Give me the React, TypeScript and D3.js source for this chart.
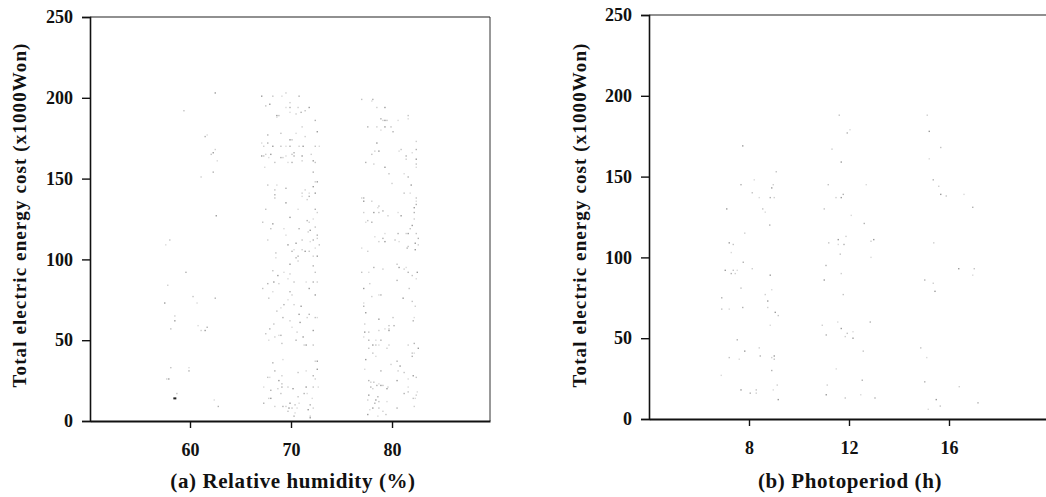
import React, { useEffect, useRef } from "react";
import * as d3 from "d3";

// tick values
const costTicks = [0, 50, 100, 150, 200, 250];
const humidityTicks = [60, 70, 80];
const photoTicks = [8, 12, 16];

// (a) relative humidity (%) vs total electric energy cost (x1000 Won)
const humidity60: [number, number][] = [
  [62.5, 203], [59.4, 192], [61.7, 177], [61.5, 176], [62.5, 168], [62.3, 166], [62.1, 165],
  [62.7, 161], [62.3, 154], [61.1, 151], [62.6, 127], [58.0, 112], [57.6, 109], [59.6, 92],
  [57.8, 84], [57.5, 73], [60.3, 77], [60.7, 73], [62.5, 76], [58.5, 65], [58.5, 62],
  [58.1, 57], [60.8, 59], [61.7, 58], [61.1, 56], [61.5, 56], [58.1, 33], [59.9, 33],
  [59.9, 31], [57.7, 26], [57.9, 26], [58.7, 17], [62.4, 13], [62.8, 9],
];
const humidityDark: [number, number][] = [[58.5, 14]];

const humidity70: [number, number][] = [
  [69.5, 203], [67.1, 201], [68.2, 201], [69.1, 201], [70.8, 201], [69.9, 197], [67.9, 196],
  [67.5, 195], [69.5, 194], [69.9, 194], [70.7, 194], [71.8, 194], [71.4, 192], [69.9, 191],
  [71.0, 191], [70.5, 190], [68.6, 189], [68.8, 189], [68.6, 188], [72.4, 186], [71.1, 182],
  [72.6, 179], [69.0, 178], [70.5, 178], [67.7, 177], [71.4, 176], [69.9, 174], [70.1, 174],
  [67.1, 172], [67.7, 172], [67.3, 170], [68.2, 170], [69.0, 170], [69.5, 170], [69.9, 170],
  [70.8, 170], [71.2, 170], [72.4, 170], [72.8, 170], [70.3, 166], [67.5, 165], [68.0, 165],
  [70.1, 165], [69.5, 164], [70.3, 164], [72.0, 165], [67.1, 164], [67.3, 164], [67.8, 163],
  [69.0, 163], [69.2, 163], [71.1, 164], [68.4, 160], [69.7, 160], [70.1, 160], [71.1, 161],
  [72.2, 161], [72.4, 160], [67.4, 157], [72.2, 154], [72.4, 148], [72.6, 148], [67.7, 146],
  [68.6, 146], [69.5, 144], [71.4, 143], [72.2, 145], [68.4, 143], [71.8, 141], [68.4, 140],
  [71.1, 141], [72.4, 141], [68.4, 138], [71.1, 139], [71.8, 139], [71.6, 137], [69.5, 135],
  [67.5, 131], [70.7, 131], [72.4, 131], [72.6, 129], [69.9, 126], [67.2, 123], [72.2, 125],
  [71.6, 124], [71.8, 123], [68.2, 122], [68.0, 119], [69.3, 119], [70.8, 119], [71.7, 117],
  [71.9, 118], [72.4, 120], [69.5, 115], [72.6, 115], [67.7, 112], [70.5, 110], [71.1, 112],
  [71.9, 111], [72.2, 112], [72.6, 113], [69.7, 109], [72.8, 109], [72.4, 107], [70.1, 105],
  [71.1, 106], [71.4, 105], [71.8, 105], [70.3, 106], [70.7, 102], [72.2, 102], [72.6, 102],
  [68.5, 104], [68.5, 101], [70.5, 101], [70.7, 99], [69.9, 97], [68.2, 93], [69.3, 92],
  [72.2, 96], [69.9, 91], [68.7, 90], [72.4, 92], [69.7, 88], [72.2, 86], [72.6, 86],
  [68.3, 86], [70.3, 86], [71.5, 86], [67.7, 85], [68.8, 85], [71.8, 82], [67.2, 82],
  [68.2, 80], [69.9, 80], [70.1, 78], [72.4, 78], [67.8, 76], [69.7, 75], [69.3, 72],
  [70.3, 72], [71.0, 71], [68.6, 68], [69.0, 70], [71.8, 66], [71.6, 64], [70.8, 66],
  [72.4, 64], [72.6, 64], [69.2, 64], [69.9, 62], [70.9, 61], [68.3, 60], [70.1, 58],
  [67.9, 57], [70.6, 55], [72.2, 56], [67.5, 54], [68.8, 53], [69.0, 53], [68.4, 52],
  [71.2, 52], [69.1, 48], [67.8, 50], [70.5, 50], [71.3, 47], [71.5, 47], [72.2, 47],
  [69.2, 38], [68.2, 36], [72.4, 37], [72.6, 37], [70.7, 30], [71.5, 31], [68.4, 31],
  [69.1, 28], [72.6, 32], [67.7, 27], [67.9, 27], [72.2, 28], [72.4, 26], [68.8, 25],
  [69.1, 23], [67.3, 21], [69.1, 21], [69.7, 21], [71.5, 21], [72.2, 21], [72.7, 21],
  [68.0, 19], [68.7, 20], [70.2, 20], [69.0, 17], [71.6, 17], [71.3, 17], [67.8, 14],
  [68.0, 14], [70.7, 15], [72.1, 14], [67.3, 11], [68.4, 9], [69.9, 11], [70.4, 10],
  [70.8, 11], [69.2, 9], [69.5, 9], [69.8, 8], [70.1, 8], [70.6, 8], [71.9, 10], [72.2, 8],
  [71.7, 7], [69.7, 6], [70.4, 5], [70.3, 3], [71.9, 3], [71.9, 2],
];

const humidity80: [number, number][] = [
  [77.0, 199], [78.0, 198], [78.1, 199], [78.5, 194], [79.3, 194], [81.6, 189], [81.6, 187],
  [78.9, 187], [79.1, 186], [79.3, 186], [79.5, 186], [80.6, 186], [77.6, 182], [78.5, 182],
  [79.3, 182], [79.9, 182], [78.9, 180], [80.1, 179], [82.4, 173], [78.5, 172], [80.9, 168],
  [80.7, 167], [82.4, 168], [78.3, 167], [78.7, 167], [78.0, 165], [82.0, 166], [81.4, 164],
  [81.4, 162], [82.4, 162], [82.4, 159], [82.4, 157], [77.4, 160], [78.2, 159], [79.3, 157],
  [79.7, 153], [81.2, 153], [81.6, 151], [80.0, 147], [81.9, 146], [81.2, 141], [81.8, 141],
  [77.2, 138], [77.0, 138], [77.2, 136], [82.4, 138], [82.4, 136], [82.4, 134], [78.0, 136],
  [82.2, 132], [78.7, 133], [78.6, 132], [79.1, 130], [77.2, 129], [78.2, 129], [78.7, 129],
  [80.6, 129], [82.2, 129], [79.6, 127], [80.9, 127], [77.6, 124], [77.4, 123], [78.0, 123],
  [82.2, 125], [82.0, 121], [81.8, 119], [79.3, 116], [80.6, 116], [81.4, 116], [81.6, 116],
  [82.4, 116], [78.3, 114], [79.1, 113], [78.7, 111], [79.3, 111], [80.3, 112], [80.7, 111],
  [82.6, 113], [82.6, 109], [82.3, 110], [81.6, 108], [77.0, 107], [81.5, 107], [77.6, 105],
  [82.3, 106], [80.5, 97], [81.4, 95], [78.2, 95], [79.1, 94], [80.7, 95], [77.0, 92],
  [77.7, 92], [81.6, 92], [81.2, 94], [82.5, 92], [82.0, 90], [82.4, 88], [80.5, 87],
  [77.8, 85], [77.2, 82], [81.7, 82], [78.7, 78], [78.9, 78], [78.0, 77], [81.1, 76],
  [82.0, 74], [77.2, 73], [77.2, 71], [82.3, 71], [77.4, 67], [80.1, 64], [82.2, 64],
  [82.1, 62], [77.3, 60], [78.7, 63], [79.7, 59], [79.3, 57], [80.2, 59], [78.7, 56],
  [77.3, 55], [77.7, 55], [77.2, 52], [77.7, 50], [79.7, 57], [79.7, 56], [77.7, 45],
  [78.4, 50], [78.9, 50], [79.7, 47], [78.1, 47], [78.4, 47], [78.7, 47], [82.2, 48],
  [81.6, 47], [82.6, 45], [82.0, 42], [82.2, 42], [82.0, 40], [79.5, 45], [77.4, 38],
  [78.1, 42], [78.4, 40], [80.5, 37], [79.9, 35], [80.8, 34], [81.2, 30], [77.3, 32],
  [78.9, 31], [80.6, 31], [82.1, 28], [82.4, 27], [81.6, 26], [77.7, 25], [77.9, 24],
  [80.5, 25], [78.2, 24], [78.7, 23], [78.5, 22], [79.6, 21], [78.9, 22], [79.1, 22],
  [81.6, 21], [77.9, 21], [78.1, 20], [79.5, 20], [81.6, 18], [82.5, 18], [81.2, 17],
  [82.4, 16], [77.7, 16], [82.1, 14], [82.3, 14], [78.6, 15], [77.6, 13], [78.4, 13],
  [78.7, 12], [79.5, 12], [78.3, 11], [82.2, 9], [78.1, 8], [78.7, 8], [77.8, 7], [80.5, 8],
  [79.1, 6], [77.6, 4], [79.4, 4], [78.6, 3],
];

// (b) photoperiod (h) vs total electric energy cost (x1000 Won)
const photo8: [number, number][] = [
  [7.75, 169], [9.09, 153], [8.21, 148], [7.68, 145], [8.97, 145], [8.91, 143], [8.13, 140],
  [8.41, 137], [8.85, 137], [9.01, 137], [7.11, 130], [8.55, 130], [8.65, 128], [8.83, 120],
  [7.83, 115], [7.21, 109], [7.37, 108], [7.29, 103], [7.77, 97], [8.13, 93], [7.05, 92],
  [7.37, 92], [7.53, 92], [7.29, 90], [7.45, 90], [8.85, 89], [7.68, 81], [8.91, 80],
  [6.91, 75], [8.65, 77], [8.75, 73], [6.91, 68], [7.21, 68], [7.75, 69], [8.75, 69],
  [9.05, 66], [9.17, 64], [8.85, 58], [7.53, 49], [8.41, 44], [7.83, 42], [7.21, 38],
  [7.61, 37], [8.45, 39], [8.91, 38], [9.01, 39], [9.01, 37], [6.89, 27], [8.91, 30],
  [9.13, 21], [7.68, 18], [8.29, 18], [8.97, 18], [8.05, 16], [8.29, 16], [9.17, 12],
];
const photo12: [number, number][] = [
  [11.61, 188], [12.04, 179], [11.93, 177], [11.32, 167], [11.69, 159], [11.17, 145],
  [12.69, 145], [11.77, 139], [11.48, 137], [11.69, 137], [11.01, 130], [12.09, 126],
  [12.61, 121], [11.88, 113], [11.57, 111], [11.19, 109], [11.57, 108], [11.8, 108],
  [12.88, 110], [12.99, 111], [11.65, 102], [12.88, 100], [11.08, 95], [11.69, 90],
  [11.01, 86], [11.77, 77], [11.55, 60], [12.85, 60], [10.93, 58], [11.69, 56], [11.93, 53],
  [12.16, 54], [11.09, 52], [11.85, 51], [12.16, 50], [12.57, 42], [11.49, 31], [12.53, 24],
  [11.13, 21], [11.09, 15], [11.85, 13], [12.47, 15], [13.04, 13],
];
const photo16: [number, number][] = [
  [15.13, 188], [15.21, 178], [15.67, 168], [15.21, 161], [15.37, 148], [15.59, 144],
  [15.67, 139], [15.89, 138], [16.6, 139], [16.95, 131], [15.39, 109], [16.39, 93],
  [17.01, 93], [16.95, 89], [15.03, 86], [15.37, 84], [15.44, 79], [14.87, 44], [15.11, 38],
  [15.03, 23], [16.41, 20], [15.49, 12], [15.65, 8], [15.17, 6], [17.16, 10],
];

const W = 1046;
const H = 497;
const FONT = "'Liberation Serif', 'Times New Roman', serif";
const SHADES = ["#9a9a9a", "#c2c2c2", "#dadada", "#b0b0b0", "#cecece"];

type Panel = {
  left: number;
  right: number;
  top: number;
  bottom: number;
  xDomain: [number, number];
  xTicks: number[];
  points: [number, number][];
  dark: [number, number][];
  xTitle: string;
  titleX: number;
  yTitleX: number;
  frameRight: boolean;
};

function drawPanel(svg: d3.Selection<SVGSVGElement, unknown, null, undefined>, p: Panel) {
  const x = d3.scaleLinear().domain(p.xDomain).range([p.left, p.right]);
  const y = d3.scaleLinear().domain([0, 250]).range([p.bottom, p.top]);

  const g = svg.append("g");

  // dots first so the axes sit on top
  g.append("g")
    .selectAll("rect")
    .data(p.points)
    .enter()
    .append("rect")
    .attr("x", (d) => x(d[0]) - 0.7)
    .attr("y", (d) => y(d[1]) - 0.7)
    .attr("width", 1.4)
    .attr("height", 1.4)
    .attr("fill", (d, i) => SHADES[i % SHADES.length]);

  g.append("g")
    .selectAll("rect")
    .data(p.dark)
    .enter()
    .append("rect")
    .attr("x", (d) => x(d[0]) - 1.5)
    .attr("y", (d) => y(d[1]) - 1)
    .attr("width", 3)
    .attr("height", 2)
    .attr("fill", "#222");

  // frame: thin top (and right) border
  g.append("line")
    .attr("x1", p.left).attr("x2", p.right)
    .attr("y1", p.top).attr("y2", p.top)
    .attr("stroke", "#222").attr("stroke-width", 1.2);
  if (p.frameRight) {
    g.append("line")
      .attr("x1", p.right).attr("x2", p.right)
      .attr("y1", p.top).attr("y2", p.bottom)
      .attr("stroke", "#333").attr("stroke-width", 1);
  }

  const yAxis = g.append("g")
    .attr("transform", `translate(${p.left},0)`)
    .call(d3.axisLeft(y).tickValues(costTicks).tickSize(8).tickPadding(9).tickFormat(d3.format("d")));
  yAxis.select(".domain").attr("stroke", "#111").attr("stroke-width", 1.6);
  yAxis.selectAll(".tick line").attr("stroke", "#111").attr("stroke-width", 1.4);
  yAxis.selectAll("text")
    .attr("font-family", FONT)
    .attr("font-weight", "bold")
    .attr("font-size", 18)
    .attr("fill", "#111");

  const xAxis = g.append("g")
    .attr("transform", `translate(0,${p.bottom})`)
    .call(d3.axisBottom(x).tickValues(p.xTicks).tickSize(7).tickPadding(15).tickSizeOuter(0));
  xAxis.select(".domain").attr("stroke", "#111").attr("stroke-width", 2.2);
  xAxis.selectAll(".tick line").attr("stroke", "#111").attr("stroke-width", 1.4);
  xAxis.selectAll("text")
    .attr("font-family", FONT)
    .attr("font-weight", "bold")
    .attr("font-size", 18)
    .attr("fill", "#111");

  g.append("text")
    .attr("x", p.titleX)
    .attr("y", 488)
    .attr("text-anchor", "middle")
    .attr("font-family", FONT)
    .attr("font-weight", "bold")
    .attr("font-size", 21)
    .attr("letter-spacing", 0.6)
    .attr("fill", "#111")
    .text(p.xTitle);

  g.append("text")
    .attr("transform", `translate(${p.yTitleX},${215}) rotate(-90)`)
    .attr("text-anchor", "middle")
    .attr("font-family", FONT)
    .attr("font-weight", "bold")
    .attr("font-size", 19)
    .attr("letter-spacing", 1.1)
    .attr("fill", "#111")
    .text("Total electric energy cost (x1000Won)");
}

const App = () => {
  const svgRef = useRef<SVGSVGElement>(null);

  useEffect(() => {
    const svg = d3.select(svgRef.current as SVGSVGElement);
    svg.selectAll("*").remove();

    drawPanel(svg, {
      left: 90,
      right: 490,
      top: 17,
      bottom: 421,
      xDomain: [50.1, 89.7],
      xTicks: humidityTicks,
      points: [...humidity60, ...humidity70, ...humidity80],
      dark: humidityDark,
      xTitle: "(a) Relative humidity (%)",
      titleX: 293,
      yTitleX: 26,
      frameRight: true,
    });

    drawPanel(svg, {
      left: 649,
      right: 1049,
      top: 15,
      bottom: 419,
      xDomain: [4, 20],
      xTicks: photoTicks,
      points: [...photo8, ...photo12, ...photo16],
      dark: [],
      xTitle: "(b) Photoperiod (h)",
      titleX: 850,
      yTitleX: 586,
      frameRight: false,
    });
  }, []);

  return (
    <svg
      ref={svgRef}
      width={W}
      height={H}
      viewBox={`0 0 ${W} ${H}`}
      style={{ position: "absolute", left: 0, top: 0, background: "#fff" }}
    />
  );
};

export default App;
